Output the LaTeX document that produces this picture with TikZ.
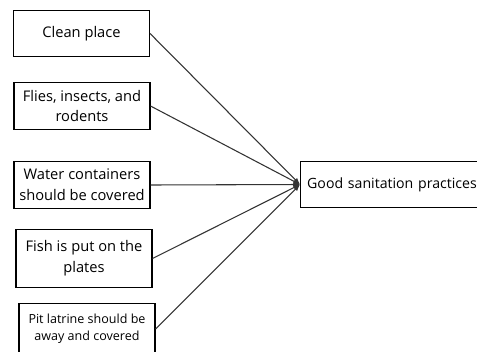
\documentclass[tikz,border=0pt]{standalone}
\usepackage{fontspec}
\setmainfont{Open Sans}
\usetikzlibrary{arrows.meta,positioning}

\begin{document}
\begin{tikzpicture}[x=0.75pt,y=0.75pt,
  factor/.style={rectangle, draw, line width=0.8pt, minimum width=102pt, minimum height=35pt, align=center, font=\fontsize{11}{15.5}\selectfont},
  link/.style={-{Latex[length=5pt,width=4pt]}, line width=0.8pt, color=black!80}]
\useasboundingbox (0,0) rectangle (477,351);
\node[factor] (clean) at (81.5,317.5) {Clean place};
\node[factor] (flies) at (82,245) {Flies, insects, and\\rodents};
\node[factor] (water) at (82,166) {Water containers\\should be covered};
\node[factor, minimum height=43pt] (fish) at (84,92.5) {Fish is put on the\\plates};
\node[factor, minimum height=38pt, font=\fontsize{9.4}{13}\selectfont] (latrine) at (87,22) {Pit latrine should be\\away and covered};
\node[rectangle, draw, line width=0.8pt, text width=160pt, inner sep=5pt, minimum height=35pt, align=left, anchor=west, font=\fontsize{10.6}{14}\selectfont] (good) at (300,166.5) {Good sanitation practices};
\foreach \src in {clean,flies,water,fish,latrine}
  \draw[link] (\src.east) -- (good.west);
\end{tikzpicture}
\end{document}
